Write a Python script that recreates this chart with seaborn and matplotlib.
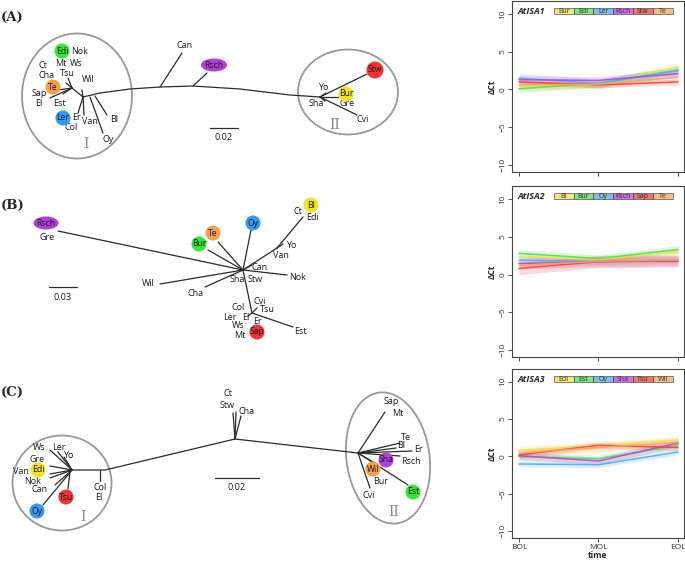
import numpy as np
import pandas as pd
import matplotlib
matplotlib.use('Agg')
import matplotlib.pyplot as plt
from matplotlib.patches import Ellipse, Rectangle
import seaborn as sns

sns.set_style('white')
plt.rcParams['font.family'] = ['Open Sans', 'DejaVu Sans']

# %%
# expression data (delta Ct at three leaf stages)
times = ['BOL', 'MOL', 'EOL']
cols = ['#EEDD55', '#55DD55', '#55AAEE', '#BB44DD', '#EE4444', '#F4A460']

isa1_acc = ['Bur', 'Edi', 'Ler', 'Rsch', 'Stw', 'Te']
isa1_vals = [[0.45, 0.6, 3.0], [0.1, 0.8, 2.6], [1.5, 0.8, 2.5],
             [1.3, 1.2, 2.1], [1.0, 0.6, 1.0], [0.6, 0.7, 1.6]]
isa1_ci = [0.6, 0.5, 0.6, 0.5, 0.4, 0.5]

isa2_acc = ['Bl', 'Bur', 'Oy', 'Rsch', 'Sap', 'Te']
isa2_vals = [[2.35, 2.0, 3.0], [2.8, 2.1, 3.3], [1.9, 1.7, 1.9],
             [1.45, 1.7, 1.8], [0.8, 1.7, 1.8], [1.2, 1.75, 1.9]]
isa2_ci = [0.5, 0.5, 0.4, 0.7, 0.8, 0.5]

isa3_acc = ['Edi', 'Est', 'Oy', 'Sha', 'Tsu', 'Wil']
isa3_vals = [[0.8, 1.4, 2.2], [0.0, -0.3, 1.5], [-1.0, -1.1, 0.6],
             [0.1, -0.6, 1.8], [0.2, 1.5, 1.2], [0.5, 1.2, 1.9]]
isa3_ci = [0.6, 0.5, 0.4, 0.5, 0.4, 0.6]

# %%
# tree colours
tc = {'y': '#F2E22A', 'g': '#33E633', 'b': '#3399EE', 'p': '#B040D8', 'r': '#EE3333', 'o': '#F5A04A'}

# tree A
a_bb_x = [83, 100, 130, 160, 193, 240, 290, 320]
a_bb_y = [97, 93, 89, 87, 86, 89, 95, 97]
a_seg = [(160, 87, 182, 53), (193, 86, 207, 73), (320, 97, 367, 74), (320, 97, 338, 97),
         (320, 97, 357, 115), (320, 97, 326, 93), (320, 97, 325, 101),
         (83, 97, 72, 88), (72, 88, 68, 78), (72, 88, 66, 83), (72, 88, 58, 90),
         (72, 88, 50, 98), (72, 88, 63, 94), (83, 97, 82, 90), (83, 97, 78, 113),
         (83, 97, 84, 115), (95, 96, 107, 115), (90, 97, 103, 133)]
a_lab = ['Can', 'Yo', 'Sha', 'Gre', 'Cvi', 'Nok', 'Mt', 'Ws', 'Ct', 'Cha', 'Tsu', 'Wil',
         'Sap', 'El', 'Est', 'Er', 'Col', 'Van', 'Bl', 'Oy']
a_lab_x = [185, 323, 316, 347, 363, 80, 61, 76, 43, 47, 67, 88, 39, 39, 59, 76, 71, 90, 114, 108]
a_lab_y = [45, 87, 104, 103, 119, 51, 63, 64, 66, 76, 74, 80, 93, 104, 103, 118, 128, 121, 119, 140]
a_dot = ['Rsch', 'Stw', 'Bur', 'Edi', 'Te', 'Ler']
a_dot_x = [214, 375, 346, 62, 53, 63]
a_dot_y = [65, 70, 94, 51, 87, 118]
a_dot_w = [26, 17, 15, 15, 15, 15]
a_dot_c = ['p', 'r', 'y', 'g', 'o', 'b']

# tree B
b_seg = [(243, 270, 58, 231), (243, 270, 160, 284), (243, 270, 205, 287), (243, 270, 208, 250),
         (243, 270, 218, 242), (243, 270, 251, 230), (243, 270, 277, 248), (277, 248, 303, 217),
         (277, 248, 283, 244), (243, 270, 287, 275), (243, 270, 252, 265), (243, 270, 252, 313),
         (252, 313, 293, 327), (252, 313, 257, 308), (252, 313, 248, 316)]
b_lab = ['Gre', 'Wil', 'Cha', 'Ct', 'Edi', 'Yo', 'Van', 'Can', 'Nok', 'Sha', 'Stw', 'Col',
         'El', 'Ler', 'Ws', 'Mt', 'Er', 'Cvi', 'Tsu', 'Est']
b_lab_x = [47, 148, 196, 298, 313, 291, 281, 260, 298, 237, 255, 238, 246, 230, 238, 240, 257, 260, 267, 300]
b_lab_y = [237, 284, 293, 211, 217, 245, 256, 268, 277, 279, 279, 308, 317, 317, 326, 335, 322, 302, 310, 331]
b_dot = ['Rsch', 'Bur', 'Te', 'Oy', 'Bl', 'Sap']
b_dot_x = [46, 199, 213, 253, 311, 257]
b_dot_y = [223, 244, 233, 223, 205, 332]
b_dot_w = [25, 15, 15, 15, 15, 15]
b_dot_c = ['p', 'g', 'o', 'b', 'y', 'r']

# tree C
c_bb_x = [72, 105, 235, 358]
c_bb_y = [470, 470, 439, 453]
c_seg = [(72, 470, 50, 450), (72, 470, 58, 452), (72, 470, 64, 457), (72, 470, 50, 466),
         (72, 470, 50, 474), (72, 470, 50, 478), (72, 470, 55, 485), (70, 471, 68, 489),
         (72, 470, 43, 505), (100, 470, 100, 481), (235, 439, 233, 413), (235, 439, 236, 412),
         (235, 439, 241, 416), (358, 453, 385, 412), (358, 453, 400, 443), (358, 453, 412, 451),
         (358, 453, 396, 448), (358, 453, 400, 456), (358, 453, 370, 488), (358, 453, 408, 485),
         (358, 453, 378, 465)]
c_lab = ['Ws', 'Ler', 'Yo', 'Gre', 'Van', 'Nok', 'Can', 'Col', 'El', 'Ct', 'Stw', 'Cha',
         'Sap', 'Mt', 'Te', 'Bl', 'Er', 'Rsch', 'Bur', 'Cvi']
c_lab_x = [39, 59, 68, 37, 21, 33, 40, 100, 99, 228, 227, 247, 391, 398, 406, 401, 418, 411, 381, 369]
c_lab_y = [447, 448, 455, 459, 471, 481, 489, 488, 498, 394, 405, 411, 402, 413, 437, 446, 449, 461, 481, 496]
c_dot = ['Edi', 'Tsu', 'Oy', 'Sha', 'Wil', 'Est']
c_dot_x = [38, 66, 37, 386, 373, 413]
c_dot_y = [470, 497, 511, 460, 469, 492]
c_dot_w = [15, 15, 15, 15, 15, 15]
c_dot_c = ['y', 'r', 'b', 'p', 'o', 'g']

# cluster rings (x, y, w, h, angle) and their numerals
rings = [(77, 96, 110, 125, 0), (348, 92, 100, 85, 0), (62, 483, 99, 95, 0), (388, 458, 83, 132, -8)]
ring_lab = ['I', 'II', 'I', 'II']
ring_lab_x = [86, 335, 83, 394]
ring_lab_y = [144, 125, 517, 512]

# scale bars (x0, x1, y) and labels
bars = [(210, 238, 128), (49, 77, 287), (215, 259, 478)]
bar_lab = ['0.02', '0.03', '0.02']

panel_lab = ['(A)', '(B)', '(C)']
panel_y = [17, 205, 392]

# %%
fig = plt.figure(figsize=(6.85, 5.62), dpi=100)

# trees on a pixel canvas
tree = fig.add_axes([0, 0, 1, 1])
tree.set_xlim(0, 685)
tree.set_ylim(562, 0)
tree.axis('off')

lc = '#2b2b2b'
tree.plot(a_bb_x, a_bb_y, color=lc, lw=0.9)
tree.plot(c_bb_x, c_bb_y, color=lc, lw=0.9)

for segs in [a_seg, b_seg, c_seg]:
    for x1, y1, x2, y2 in segs:
        tree.plot([x1, x2], [y1, y2], color=lc, lw=0.9)

for labs, xs, ys in [(a_lab, a_lab_x, a_lab_y), (b_lab, b_lab_x, b_lab_y), (c_lab, c_lab_x, c_lab_y)]:
    for t, x, y in zip(labs, xs, ys):
        tree.text(x, y, t, fontsize=6.5, ha='center', va='center', color='#1a1a1a')

for labs, xs, ys, ws, cs in [(a_dot, a_dot_x, a_dot_y, a_dot_w, a_dot_c),
                             (b_dot, b_dot_x, b_dot_y, b_dot_w, b_dot_c),
                             (c_dot, c_dot_x, c_dot_y, c_dot_w, c_dot_c)]:
    for t, x, y, w, c in zip(labs, xs, ys, ws, cs):
        h = 13 if w > 20 else w
        tree.add_patch(Ellipse((x, y), w, h, facecolor=tc[c], edgecolor='none', zorder=3))
        tree.text(x, y, t, fontsize=6.2, ha='center', va='center', color='#1a1a1a', zorder=4)

for (x, y, w, h, ang) in rings:
    tree.add_patch(Ellipse((x, y), w, h, angle=ang, facecolor='none', edgecolor='#999999', lw=1.3))
for t, x, y in zip(ring_lab, ring_lab_x, ring_lab_y):
    tree.text(x, y, t, fontsize=10, ha='center', va='center', color='#888888', family='DejaVu Serif')

for (x0, x1, y), t in zip(bars, bar_lab):
    tree.plot([x0, x1], [y, y], color=lc, lw=0.9)
    tree.text((x0 + x1) / 2, y + 10, t, fontsize=6.6, ha='center', va='center', color='#1a1a1a')

for t, y in zip(panel_lab, panel_y):
    tree.text(1, y, t, fontsize=9.5, fontweight='bold', ha='left', va='center', family='DejaVu Serif')

# %%
# expression panels
boxes = [[0.7474, 0.694, 0.2511, 0.3043],
         [0.7474, 0.3648, 0.2511, 0.3043],
         [0.7474, 0.0427, 0.2511, 0.3007]]
genes = ['AtISA1', 'AtISA2', 'AtISA3']
panels = [(isa1_acc, isa1_vals, isa1_ci), (isa2_acc, isa2_vals, isa2_ci), (isa3_acc, isa3_vals, isa3_ci)]

for i, (box, gene, (acc, vals, ci)) in enumerate(zip(boxes, genes, panels)):
    ax = fig.add_axes(box)
    rows = []
    for a, v in zip(acc, vals):
        for k, val in enumerate(v):
            rows.append({'acc': a, 'pos': k, 'dct': val})
    df = pd.DataFrame(rows)

    for a, v, w, c in zip(acc, vals, ci, cols):
        ax.fill_between(range(len(times)), np.array(v) - w, np.array(v) + w,
                        color=c, alpha=0.2, lw=0)

    sns.lineplot(data=df, x='pos', y='dct', hue='acc', palette=dict(zip(acc, cols)),
                 ax=ax, legend=False, lw=1.1, alpha=0.9)

    ax.set_xlim(-0.088, 2.075)
    ax.set_ylim(-10.9, 11.7)
    ax.set_yticks([-10, -5, 0, 5, 10])
    ax.set_yticklabels(['−10', '−5', '0', '5', '10'], rotation=90, va='center', fontsize=6)
    ax.set_xticks([0, 1, 2])
    if i == 2:
        ax.set_xticklabels(times, fontsize=6)
        ax.set_xlabel('time', fontsize=6, fontweight='bold', labelpad=0)
    else:
        ax.set_xticklabels([])
        ax.set_xlabel('')
    ax.set_ylabel('ΔCt', fontsize=6, fontweight='bold', labelpad=2)
    ax.tick_params(length=3, width=0.6, pad=1, colors='#333333', direction='out',
                   bottom=True, left=True)
    for s in ax.spines.values():
        s.set_color('#444444')
        s.set_linewidth(0.8)

    ax.text(0.035, 0.94, gene, transform=ax.transAxes, fontsize=6.5, fontweight='bold',
            style='italic', ha='left', va='center')
    for j, (a, c) in enumerate(zip(acc, cols)):
        ax.add_patch(Rectangle((0.244 + j * 0.115, 0.922), 0.115, 0.036, transform=ax.transAxes,
                               facecolor=c, alpha=0.75, edgecolor='#444444', lw=0.6))
        ax.text(0.244 + j * 0.115 + 0.0575, 0.94, a, transform=ax.transAxes, fontsize=5,
                ha='center', va='center', color='#333333')

fig.savefig('out.png', dpi=100)
